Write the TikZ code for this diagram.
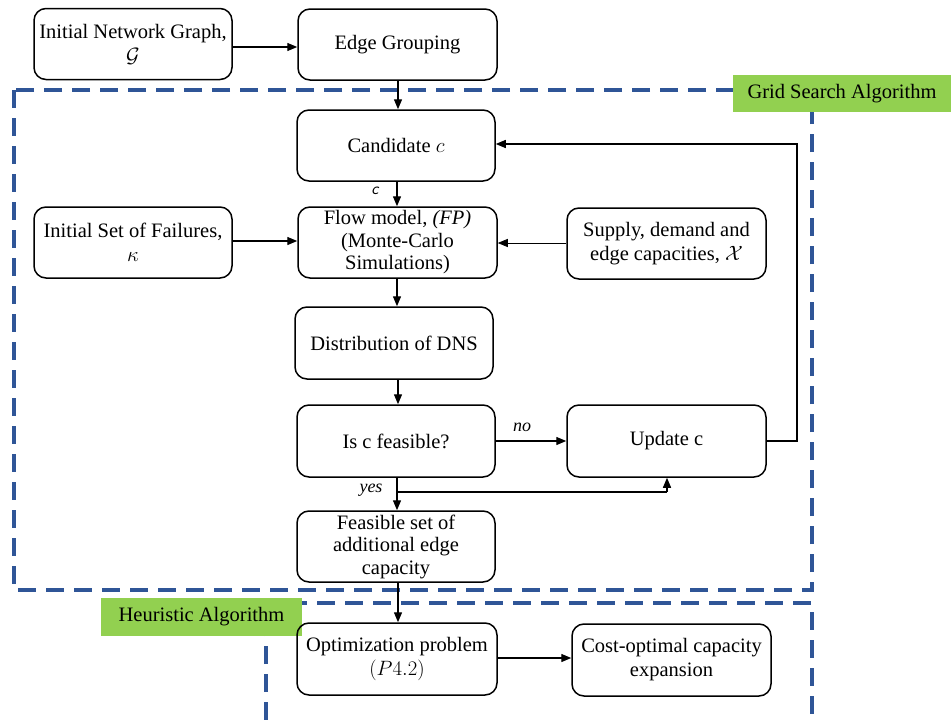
\documentclass[tikz,border=0pt]{standalone}
\usepackage{fontspec}
\setmainfont{Liberation Serif}
\usetikzlibrary{arrows.meta}
\definecolor{frameblue}{RGB}{47,85,151}
\definecolor{labelgreen}{RGB}{146,208,80}
\tikzset{
  box/.style={draw, line width=1.5pt, rounded corners=12pt, minimum width=198pt,
    minimum height=71pt, align=center, inner sep=2pt,
    font=\fontsize{20.5}{24}\selectfont},
  tightbox/.style={box, font=\fontsize{20.5}{22.5}\selectfont},
  conn/.style={line width=1.4pt, -{Triangle[length=10pt,width=8pt]}},
  thinconn/.style={line width=0.8pt, -{Triangle[length=10pt,width=8pt]}},
  frame/.style={draw=frameblue, line width=4pt, dash pattern=on 18pt off 10pt},
  tag/.style={fill=labelgreen, inner sep=0pt, font=\fontsize{20.5}{23}\selectfont},
  note/.style={font=\fontsize{18}{20}\selectfont\itshape, inner sep=1pt}
}
\begin{document}
\begin{tikzpicture}[x=1pt,y=-1pt]
\useasboundingbox (0,0) rectangle (951,720);

% dashed algorithm frames
\draw[frame] (14,90) rectangle (812,590);
\draw[frame] (266,720) -- (266,603) -- (812,603) -- (812,720);
\node[tag, minimum width=218pt, minimum height=37pt] (gridtag) at (842,93.5) {Grid Search Algorithm};
\node[tag, minimum width=201pt, minimum height=38pt] (heurtag) at (201.5,617) {Heuristic Algorithm};

% process boxes
\node[box] (ing) at (133,44) {Initial Network Graph,\\ $\mathcal{G}$};
\node[box, minimum width=199pt] (eg) at (397.5,44.5) {Edge Grouping};
\node[box] (cand) at (396,145.5) {Candidate $c$};
\node[tightbox, minimum width=199pt] (fm) at (397.5,242.5) {Flow model, \textit{(FP)}\\ (Monte-Carlo\\ Simulations)};
\node[box] (isf) at (133,242.5) {Initial Set of Failures,\\ $\kappa$};
\node[box, minimum width=199pt] (sup) at (666.5,243.5) {Supply, demand and\\ edge capacities, $\mathcal{X}$};
\node[box, minimum height=72pt] (dns) at (394,343) {Distribution of DNS};
\node[box, minimum height=72pt] (feas) at (396,441) {Is c feasible?};
\node[box, minimum width=199pt, minimum height=72pt] (upd) at (666.5,441) {Update c};
\node[tightbox] (fset) at (396,546.5) {Feasible set of\\ additional edge\\ capacity};
\node[box, minimum width=200pt, minimum height=72pt] (opt) at (397,659) {Optimization problem\\ $(P4.2)$};
\node[box, minimum width=199pt, minimum height=72pt] (cost) at (671.5,660) {Cost-optimal capacity\\ expansion};

% connectors
\draw[conn] (ing.east |- 0,47) -- (eg.west |- 0,47);
\draw[conn] (eg.south -| 398,0) -- (cand.north -| 398,0);
\draw[conn] (cand.south -| 397,0) -- (fm.north -| 397,0);
\node[font=\fontsize{17}{18}\selectfont\sffamily\itshape, inner sep=0pt] (clab) at (375,191) {c};
\draw[conn] (isf.east |- 0,241) -- (fm.west |- 0,241);
\draw[thinconn] (sup.west |- 0,243) -- (fm.east |- 0,243);
\draw[conn] (fm.south -| 397,0) -- (dns.north -| 397,0);
\draw[conn] (dns.south -| 398,0) -- (feas.north -| 398,0);
\draw[conn] (feas.east) -- (upd.west);
\node[note] (nolab) at (522,427) {no};
\draw[conn] (upd.east) -- (797,441) -- (797,144) -- (cand.east |- 0,144);
\draw[conn] (feas.south -| 397,0) -- (fset.north -| 397,0);
\node[note] (yeslab) at (371,490) {yes};
\draw[line width=1.2pt] (397,492) -- (667,492);
\draw[conn] (667,492) -- (upd.south -| 667,0);
\draw[conn] (fset.south -| 398,0) -- (opt.north -| 398,0);
\draw[conn] (opt.east |- 0,658) -- (cost.west |- 0,658);
\end{tikzpicture}
\end{document}
